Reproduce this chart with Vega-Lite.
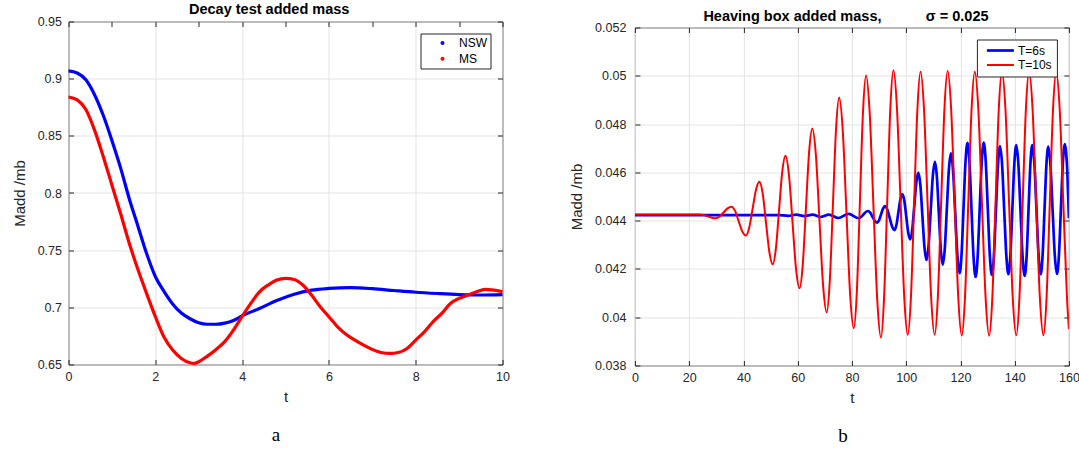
{
  "$schema": "https://vega.github.io/schema/vega-lite/v6.json",
  "background": "white",
  "padding": {"left": 11.5, "top": 0.5, "right": 3, "bottom": 3},
  "datasets": {
    "decay": [
      {"t":0,"v":0.9068,"s":"NSW"},{"t":0.2,"v":0.905,"s":"NSW"},{"t":0.4,"v":0.899,"s":"NSW"},{"t":0.6,"v":0.886,"s":"NSW"},{"t":0.8,"v":0.868,"s":"NSW"},{"t":1.0,"v":0.846,"s":"NSW"},{"t":1.2,"v":0.822,"s":"NSW"},{"t":1.4,"v":0.795,"s":"NSW"},{"t":1.6,"v":0.771,"s":"NSW"},{"t":1.8,"v":0.747,"s":"NSW"},{"t":2.0,"v":0.727,"s":"NSW"},{"t":2.2,"v":0.714,"s":"NSW"},{"t":2.4,"v":0.703,"s":"NSW"},{"t":2.6,"v":0.695,"s":"NSW"},{"t":2.8,"v":0.69,"s":"NSW"},{"t":3.0,"v":0.6865,"s":"NSW"},{"t":3.2,"v":0.6852,"s":"NSW"},{"t":3.4,"v":0.6852,"s":"NSW"},{"t":3.6,"v":0.6862,"s":"NSW"},{"t":3.8,"v":0.6885,"s":"NSW"},{"t":4.0,"v":0.6925,"s":"NSW"},{"t":4.4,"v":0.699,"s":"NSW"},{"t":4.8,"v":0.706,"s":"NSW"},{"t":5.2,"v":0.7115,"s":"NSW"},{"t":5.6,"v":0.715,"s":"NSW"},{"t":6.0,"v":0.7165,"s":"NSW"},{"t":6.5,"v":0.7172,"s":"NSW"},{"t":7.0,"v":0.7163,"s":"NSW"},{"t":7.5,"v":0.7147,"s":"NSW"},{"t":8.0,"v":0.7132,"s":"NSW"},{"t":8.5,"v":0.7121,"s":"NSW"},{"t":9.0,"v":0.7112,"s":"NSW"},{"t":9.5,"v":0.7108,"s":"NSW"},{"t":10,"v":0.7112,"s":"NSW"},
      {"t":0,"v":0.884,"s":"MS"},{"t":0.2,"v":0.8814,"s":"MS"},{"t":0.4,"v":0.873,"s":"MS"},{"t":0.6,"v":0.855,"s":"MS"},{"t":0.8,"v":0.832,"s":"MS"},{"t":1.0,"v":0.807,"s":"MS"},{"t":1.2,"v":0.782,"s":"MS"},{"t":1.4,"v":0.756,"s":"MS"},{"t":1.6,"v":0.733,"s":"MS"},{"t":1.8,"v":0.712,"s":"MS"},{"t":2.0,"v":0.692,"s":"MS"},{"t":2.2,"v":0.674,"s":"MS"},{"t":2.4,"v":0.6626,"s":"MS"},{"t":2.6,"v":0.6553,"s":"MS"},{"t":2.8,"v":0.6515,"s":"MS"},{"t":2.9,"v":0.651,"s":"MS"},{"t":3.0,"v":0.6524,"s":"MS"},{"t":3.2,"v":0.6573,"s":"MS"},{"t":3.4,"v":0.6632,"s":"MS"},{"t":3.6,"v":0.67,"s":"MS"},{"t":3.8,"v":0.68,"s":"MS"},{"t":4.0,"v":0.692,"s":"MS"},{"t":4.2,"v":0.7034,"s":"MS"},{"t":4.4,"v":0.7136,"s":"MS"},{"t":4.6,"v":0.7195,"s":"MS"},{"t":4.8,"v":0.7239,"s":"MS"},{"t":5.0,"v":0.7253,"s":"MS"},{"t":5.2,"v":0.7244,"s":"MS"},{"t":5.4,"v":0.7195,"s":"MS"},{"t":5.6,"v":0.7107,"s":"MS"},{"t":5.8,"v":0.7005,"s":"MS"},{"t":6.0,"v":0.6918,"s":"MS"},{"t":6.2,"v":0.683,"s":"MS"},{"t":6.4,"v":0.6763,"s":"MS"},{"t":6.6,"v":0.6713,"s":"MS"},{"t":6.8,"v":0.6669,"s":"MS"},{"t":7.0,"v":0.6632,"s":"MS"},{"t":7.2,"v":0.6605,"s":"MS"},{"t":7.4,"v":0.6597,"s":"MS"},{"t":7.6,"v":0.6605,"s":"MS"},{"t":7.8,"v":0.664,"s":"MS"},{"t":8.0,"v":0.6713,"s":"MS"},{"t":8.2,"v":0.6786,"s":"MS"},{"t":8.4,"v":0.6874,"s":"MS"},{"t":8.6,"v":0.6947,"s":"MS"},{"t":8.8,"v":0.7034,"s":"MS"},{"t":9.0,"v":0.7078,"s":"MS"},{"t":9.2,"v":0.7107,"s":"MS"},{"t":9.4,"v":0.7136,"s":"MS"},{"t":9.6,"v":0.7157,"s":"MS"},{"t":9.8,"v":0.715,"s":"MS"},{"t":10,"v":0.7136,"s":"MS"}
    ],
    "heave": [
      {"t":0,"v":0.04423,"s":"T=6s"},{"t":53,"v":0.04423,"s":"T=6s"},{"t":56.5,"v":0.0442,"s":"T=6s"},{"t":59.5,"v":0.04425,"s":"T=6s"},{"t":62.5,"v":0.04419,"s":"T=6s"},{"t":65.5,"v":0.04425,"s":"T=6s"},{"t":68.5,"v":0.04415,"s":"T=6s"},{"t":71.5,"v":0.04425,"s":"T=6s"},{"t":75,"v":0.04411,"s":"T=6s"},{"t":78.8,"v":0.04428,"s":"T=6s"},{"t":82.5,"v":0.0441,"s":"T=6s"},{"t":85.9,"v":0.0444,"s":"T=6s"},
      {"t":86.75,"v":0.04433,"s":"T=6s"},{"t":87.6,"v":0.04416,"s":"T=6s"},{"t":88.45,"v":0.04399,"s":"T=6s"},{"t":89.3,"v":0.04392,"s":"T=6s"},
      {"t":90.03,"v":0.04402,"s":"T=6s"},{"t":90.75,"v":0.04426,"s":"T=6s"},{"t":91.48,"v":0.0445,"s":"T=6s"},{"t":92.2,"v":0.0446,"s":"T=6s"},
      {"t":93.08,"v":0.044455,"s":"T=6s"},{"t":93.95,"v":0.044105,"s":"T=6s"},{"t":94.83,"v":0.043755,"s":"T=6s"},{"t":95.7,"v":0.04361,"s":"T=6s"},
      {"t":96.43,"v":0.043828,"s":"T=6s"},{"t":97.15,"v":0.044355,"s":"T=6s"},{"t":97.88,"v":0.044882,"s":"T=6s"},{"t":98.6,"v":0.0451,"s":"T=6s"},
      {"t":99.33,"v":0.044825,"s":"T=6s"},{"t":100.05,"v":0.04416,"s":"T=6s"},{"t":100.78,"v":0.043495,"s":"T=6s"},{"t":101.5,"v":0.04322,"s":"T=6s"},
      {"t":102.25,"v":0.043626,"s":"T=6s"},{"t":103,"v":0.044605,"s":"T=6s"},{"t":103.75,"v":0.045584,"s":"T=6s"},{"t":104.5,"v":0.04599,"s":"T=6s"},
      {"t":105.25,"v":0.04546,"s":"T=6s"},{"t":106,"v":0.04418,"s":"T=6s"},{"t":106.75,"v":0.0429,"s":"T=6s"},{"t":107.5,"v":0.04237,"s":"T=6s"},
      {"t":108.28,"v":0.042966,"s":"T=6s"},{"t":109.05,"v":0.044405,"s":"T=6s"},{"t":109.83,"v":0.045844,"s":"T=6s"},{"t":110.6,"v":0.04644,"s":"T=6s"},
      {"t":111.33,"v":0.045815,"s":"T=6s"},{"t":112.05,"v":0.044305,"s":"T=6s"},{"t":112.78,"v":0.042795,"s":"T=6s"},{"t":113.5,"v":0.04217,"s":"T=6s"},
      {"t":114.25,"v":0.042847,"s":"T=6s"},{"t":115,"v":0.04448,"s":"T=6s"},{"t":115.75,"v":0.046113,"s":"T=6s"},{"t":116.5,"v":0.04679,"s":"T=6s"},
      {"t":117.3,"v":0.046062,"s":"T=6s"},{"t":118.1,"v":0.044305,"s":"T=6s"},{"t":118.9,"v":0.042548,"s":"T=6s"},{"t":119.7,"v":0.04182,"s":"T=6s"},
      {"t":120.43,"v":0.042611,"s":"T=6s"},{"t":121.15,"v":0.04452,"s":"T=6s"},{"t":121.88,"v":0.046429,"s":"T=6s"},{"t":122.6,"v":0.04722,"s":"T=6s"},
      {"t":123.35,"v":0.046407,"s":"T=6s"},{"t":124.1,"v":0.044445,"s":"T=6s"},{"t":124.85,"v":0.042483,"s":"T=6s"},{"t":125.6,"v":0.04167,"s":"T=6s"},
      {"t":126.35,"v":0.042484,"s":"T=6s"},{"t":127.1,"v":0.04445,"s":"T=6s"},{"t":127.85,"v":0.046416,"s":"T=6s"},{"t":128.6,"v":0.04723,"s":"T=6s"},
      {"t":129.35,"v":0.046427,"s":"T=6s"},{"t":130.1,"v":0.04449,"s":"T=6s"},{"t":130.85,"v":0.042553,"s":"T=6s"},{"t":131.6,"v":0.04175,"s":"T=6s"},
      {"t":132.35,"v":0.042532,"s":"T=6s"},{"t":133.1,"v":0.04442,"s":"T=6s"},{"t":133.85,"v":0.046308,"s":"T=6s"},{"t":134.6,"v":0.04709,"s":"T=6s"},
      {"t":135.38,"v":0.046312,"s":"T=6s"},{"t":136.15,"v":0.044435,"s":"T=6s"},{"t":136.93,"v":0.042558,"s":"T=6s"},{"t":137.7,"v":0.04178,"s":"T=6s"},
      {"t":138.43,"v":0.042563,"s":"T=6s"},{"t":139.15,"v":0.044455,"s":"T=6s"},{"t":139.88,"v":0.046347,"s":"T=6s"},{"t":140.6,"v":0.04713,"s":"T=6s"},
      {"t":141.38,"v":0.046336,"s":"T=6s"},{"t":142.15,"v":0.04442,"s":"T=6s"},{"t":142.93,"v":0.042504,"s":"T=6s"},{"t":143.7,"v":0.04171,"s":"T=6s"},
      {"t":144.4,"v":0.042504,"s":"T=6s"},{"t":145.1,"v":0.04442,"s":"T=6s"},{"t":145.8,"v":0.046336,"s":"T=6s"},{"t":146.5,"v":0.04713,"s":"T=6s"},
      {"t":147.28,"v":0.046347,"s":"T=6s"},{"t":148.05,"v":0.044455,"s":"T=6s"},{"t":148.83,"v":0.042563,"s":"T=6s"},{"t":149.6,"v":0.04178,"s":"T=6s"},
      {"t":150.3,"v":0.042555,"s":"T=6s"},{"t":151,"v":0.044425,"s":"T=6s"},{"t":151.7,"v":0.046295,"s":"T=6s"},{"t":152.4,"v":0.04707,"s":"T=6s"},
      {"t":153.2,"v":0.046297,"s":"T=6s"},{"t":154,"v":0.04443,"s":"T=6s"},{"t":154.8,"v":0.042563,"s":"T=6s"},{"t":155.6,"v":0.04179,"s":"T=6s"},
      {"t":156.33,"v":0.042578,"s":"T=6s"},{"t":157.05,"v":0.04448,"s":"T=6s"},{"t":157.78,"v":0.046382,"s":"T=6s"},{"t":158.5,"v":0.04717,"s":"T=6s"},
      {"t":158.9,"v":0.0469,"s":"T=6s"},{"t":159.4,"v":0.04606,"s":"T=6s"},{"t":160,"v":0.0441,"s":"T=6s"},
      {"t":0,"v":0.04425,"s":"T=10s"},{"t":24,"v":0.04425,"s":"T=10s"},{"t":25.45,"v":0.044228,"s":"T=10s"},{"t":26.9,"v":0.044175,"s":"T=10s"},{"t":28.35,"v":0.044122,"s":"T=10s"},{"t":29.8,"v":0.0441,"s":"T=10s"},
      {"t":31.25,"v":0.04417,"s":"T=10s"},{"t":32.7,"v":0.04434,"s":"T=10s"},{"t":34.15,"v":0.04451,"s":"T=10s"},{"t":35.6,"v":0.04458,"s":"T=10s"},
      {"t":36.93,"v":0.044404,"s":"T=10s"},{"t":38.25,"v":0.04398,"s":"T=10s"},{"t":39.58,"v":0.043556,"s":"T=10s"},{"t":40.9,"v":0.04338,"s":"T=10s"},
      {"t":42.15,"v":0.043707,"s":"T=10s"},{"t":43.4,"v":0.044495,"s":"T=10s"},{"t":44.65,"v":0.045283,"s":"T=10s"},{"t":45.9,"v":0.04561,"s":"T=10s"},
      {"t":47.13,"v":0.045109,"s":"T=10s"},{"t":48.35,"v":0.0439,"s":"T=10s"},{"t":49.58,"v":0.042691,"s":"T=10s"},{"t":50.8,"v":0.04219,"s":"T=10s"},
      {"t":51.98,"v":0.042849,"s":"T=10s"},{"t":53.15,"v":0.04444,"s":"T=10s"},{"t":54.33,"v":0.046031,"s":"T=10s"},{"t":55.5,"v":0.04669,"s":"T=10s"},
      {"t":56.8,"v":0.045886,"s":"T=10s"},{"t":58.1,"v":0.043945,"s":"T=10s"},{"t":59.4,"v":0.042004,"s":"T=10s"},{"t":60.7,"v":0.0412,"s":"T=10s"},
      {"t":61.88,"v":0.042169,"s":"T=10s"},{"t":63.05,"v":0.04451,"s":"T=10s"},{"t":64.23,"v":0.046851,"s":"T=10s"},{"t":65.4,"v":0.04782,"s":"T=10s"},
      {"t":66.73,"v":0.046704,"s":"T=10s"},{"t":68.05,"v":0.04401,"s":"T=10s"},{"t":69.38,"v":0.041316,"s":"T=10s"},{"t":70.7,"v":0.0402,"s":"T=10s"},
      {"t":71.85,"v":0.041503,"s":"T=10s"},{"t":73.0,"v":0.04465,"s":"T=10s"},{"t":74.15,"v":0.047797,"s":"T=10s"},{"t":75.3,"v":0.0491,"s":"T=10s"},
      {"t":76.65,"v":0.0477,"s":"T=10s"},{"t":78.0,"v":0.04432,"s":"T=10s"},{"t":79.35,"v":0.04094,"s":"T=10s"},{"t":80.7,"v":0.03954,"s":"T=10s"},
      {"t":81.83,"v":0.041073,"s":"T=10s"},{"t":82.95,"v":0.044775,"s":"T=10s"},{"t":84.08,"v":0.048477,"s":"T=10s"},{"t":85.2,"v":0.05001,"s":"T=10s"},
      {"t":86.58,"v":0.048421,"s":"T=10s"},{"t":87.95,"v":0.044585,"s":"T=10s"},{"t":89.33,"v":0.040749,"s":"T=10s"},{"t":90.7,"v":0.03916,"s":"T=10s"},
      {"t":91.85,"v":0.040781,"s":"T=10s"},{"t":93.0,"v":0.044695,"s":"T=10s"},{"t":94.15,"v":0.048609,"s":"T=10s"},{"t":95.3,"v":0.05023,"s":"T=10s"},
      {"t":96.63,"v":0.048625,"s":"T=10s"},{"t":97.95,"v":0.04475,"s":"T=10s"},{"t":99.28,"v":0.040875,"s":"T=10s"},{"t":100.6,"v":0.03927,"s":"T=10s"},
      {"t":101.78,"v":0.040866,"s":"T=10s"},{"t":102.95,"v":0.04472,"s":"T=10s"},{"t":104.13,"v":0.048574,"s":"T=10s"},{"t":105.3,"v":0.05017,"s":"T=10s"},
      {"t":106.6,"v":0.048574,"s":"T=10s"},{"t":107.9,"v":0.04472,"s":"T=10s"},{"t":109.2,"v":0.040866,"s":"T=10s"},{"t":110.5,"v":0.03927,"s":"T=10s"},
      {"t":111.7,"v":0.040871,"s":"T=10s"},{"t":112.9,"v":0.044735,"s":"T=10s"},{"t":114.1,"v":0.048599,"s":"T=10s"},{"t":115.3,"v":0.0502,"s":"T=10s"},
      {"t":116.6,"v":0.048595,"s":"T=10s"},{"t":117.9,"v":0.04472,"s":"T=10s"},{"t":119.2,"v":0.040845,"s":"T=10s"},{"t":120.5,"v":0.03924,"s":"T=10s"},
      {"t":121.7,"v":0.040841,"s":"T=10s"},{"t":122.9,"v":0.044705,"s":"T=10s"},{"t":124.1,"v":0.048569,"s":"T=10s"},{"t":125.3,"v":0.05017,"s":"T=10s"},
      {"t":126.63,"v":0.048568,"s":"T=10s"},{"t":127.95,"v":0.0447,"s":"T=10s"},{"t":129.28,"v":0.040832,"s":"T=10s"},{"t":130.6,"v":0.03923,"s":"T=10s"},
      {"t":131.78,"v":0.040832,"s":"T=10s"},{"t":132.95,"v":0.0447,"s":"T=10s"},{"t":134.13,"v":0.048568,"s":"T=10s"},{"t":135.3,"v":0.05017,"s":"T=10s"},
      {"t":136.63,"v":0.048571,"s":"T=10s"},{"t":137.95,"v":0.04471,"s":"T=10s"},{"t":139.28,"v":0.040849,"s":"T=10s"},{"t":140.6,"v":0.03925,"s":"T=10s"},
      {"t":141.78,"v":0.040849,"s":"T=10s"},{"t":142.95,"v":0.04471,"s":"T=10s"},{"t":144.13,"v":0.048571,"s":"T=10s"},{"t":145.3,"v":0.05017,"s":"T=10s"},
      {"t":146.63,"v":0.048571,"s":"T=10s"},{"t":147.95,"v":0.04471,"s":"T=10s"},{"t":149.28,"v":0.040849,"s":"T=10s"},{"t":150.6,"v":0.03925,"s":"T=10s"},
      {"t":151.78,"v":0.040849,"s":"T=10s"},{"t":152.95,"v":0.04471,"s":"T=10s"},{"t":154.13,"v":0.048571,"s":"T=10s"},{"t":155.3,"v":0.05017,"s":"T=10s"},
      {"t":156.63,"v":0.048571,"s":"T=10s"},{"t":157.95,"v":0.04471,"s":"T=10s"},{"t":159.28,"v":0.040849,"s":"T=10s"},{"t":160,"v":0.0395,"s":"T=10s"}
    ]
  },
  "spacing": 58.4,
  "resolve": {"scale": {"color": "independent", "strokeWidth": "independent"}, "legend": {"color": "independent"}},
  "hconcat": [
    {
      "width": 434,
      "height": 343,
      "data": {"name": "decay"},
      "title": {"text": "a", "orient": "bottom", "font": "Liberation Serif", "fontSize": 19, "fontWeight": "normal", "color": "#000000", "dx": -9.5, "offset": 21},
      "layer": [
        {
          "mark": {"type": "line", "strokeWidth": 3.2, "interpolate": "monotone"},
          "encoding": {
            "x": {"field": "t", "type": "quantitative", "scale": {"domain": [0, 10], "nice": false, "zero": false},
                  "axis": {"orient": "bottom", "title": "t", "values": [0, 2, 4, 6, 8, 10], "titlePadding": 6.7, "labelPadding": 11}},
            "y": {"field": "v", "type": "quantitative", "scale": {"domain": [0.65, 0.95], "nice": false, "zero": false},
                  "axis": {"orient": "left", "title": "Madd /mb", "values": [0.65, 0.7, 0.75, 0.8, 0.85, 0.9, 0.95], "format": "~g", "titlePadding": 10, "labelPadding": 12}},
            "color": {"field": "s", "type": "nominal", "sort": ["NSW", "MS"],
                      "scale": {"domain": ["NSW", "MS"], "range": ["#0000ff", "#ff0000"]},
                      "legend": {"title": null, "orient": "top-right", "offset": 12, "symbolType": "circle", "symbolSize": 5, "symbolStrokeWidth": 1.8, "symbolOffset": 12.5, "labelOffset": 10.5, "padding": 3.5, "rowPadding": 3.7, "strokeColor": "#262626", "fillColor": "#ffffff", "labelFontSize": 12, "labelColor": "#000000"}}
          }
        },
        {
          "mark": {"type": "line", "strokeOpacity": 0},
          "encoding": {
            "x": {"field": "t", "type": "quantitative", "scale": {"domain": [0, 10], "nice": false, "zero": false},
                  "axis": {"orient": "top", "title": "Decay test added mass", "labels": false, "grid": false, "titleFontWeight": "bold", "titleFontSize": 14.5, "titleColor": "#000000", "titleAnchor": "start", "titleAlign": "left", "titleBaseline": "alphabetic", "titleX": 120, "titleY": -8.4}},
            "y": {"field": "v", "type": "quantitative", "scale": {"domain": [0.65, 0.95], "nice": false, "zero": false},
                  "axis": {"orient": "right", "title": null, "labels": false, "grid": false}}
          }
        }
      ],
      "resolve": {"axis": {"x": "independent", "y": "independent"}}
    },
    {
      "spacing": -18,
      "resolve": {"scale": {"color": "independent", "strokeWidth": "independent"}, "legend": {"color": "independent"}},
      "vconcat": [
        {
          "width": 434,
          "height": 1,
          "data": {"values": [{"t": 0}]},
          "mark": {"type": "point", "opacity": 0},
          "view": {"stroke": null}
        },
        {
          "width": 434,
          "height": 338,
          "data": {"name": "heave"},
          "title": {"text": "b", "orient": "bottom", "font": "Liberation Serif", "fontSize": 19, "fontWeight": "normal", "color": "#000000", "dx": -9, "offset": 21},
          "layer": [
            {
              "mark": {"type": "line", "interpolate": "monotone", "clip": true},
              "encoding": {
                "x": {"field": "t", "type": "quantitative", "scale": {"domain": [0, 160], "nice": false, "zero": false},
                      "axis": {"orient": "bottom", "title": "t", "values": [0, 20, 40, 60, 80, 100, 120, 140, 160], "titlePadding": 6.7, "labelPadding": 11}},
                "y": {"field": "v", "type": "quantitative", "scale": {"domain": [0.038, 0.052], "nice": false, "zero": false},
                      "axis": {"orient": "left", "title": "Madd /mb", "values": [0.038, 0.04, 0.042, 0.044, 0.046, 0.048, 0.05, 0.052], "format": "~g", "titlePadding": 10, "labelPadding": 14}},
                "color": {"field": "s", "type": "nominal", "sort": ["T=6s", "T=10s"],
                          "scale": {"domain": ["T=6s", "T=10s"], "range": ["#0000ff", "#ff0000"]},
                          "legend": {"title": null, "orient": "top-right", "offset": 12, "symbolType": "M-4.5,0L4.5,0", "symbolSize": 36, "symbolStrokeWidth": 2.2, "symbolOffset": 12.5, "labelOffset": 11.5, "padding": 5, "rowPadding": 2.5, "strokeColor": "#262626", "fillColor": "#ffffff", "labelFontSize": 12, "labelColor": "#000000"}},
                "strokeWidth": {"field": "s", "type": "nominal", "scale": {"domain": ["T=6s", "T=10s"], "range": [2.7, 2]}, "legend": null}
              }
            },
            {
              "mark": {"type": "line", "strokeOpacity": 0},
              "encoding": {
                "x": {"field": "t", "type": "quantitative", "scale": {"domain": [0, 160], "nice": false, "zero": false},
                      "axis": {"orient": "top", "title": "Heaving box added mass,\u00a0\u00a0\u00a0\u00a0\u00a0\u00a0\u00a0\u00a0\u00a0\u00a0\u00a0σ = 0.025", "labels": false, "grid": false, "titleFontWeight": "bold", "titleFontSize": 14.5, "titleColor": "#000000", "titleAnchor": "start", "titleAlign": "left", "titleBaseline": "alphabetic", "titleX": 68, "titleY": -6.6}},
                "y": {"field": "v", "type": "quantitative", "scale": {"domain": [0.038, 0.052], "nice": false, "zero": false},
                      "axis": {"orient": "right", "title": null, "labels": false, "grid": false}}
              }
            }
          ],
          "resolve": {"axis": {"x": "independent", "y": "independent"}}
        }
      ]
    }
  ],
  "config": {
    "font": "Liberation Sans",
    "view": {"stroke": "#262626", "strokeWidth": 1},
    "axis": {
      "domain": false,
      "grid": true,
      "gridColor": "#e3e3e3",
      "gridWidth": 1,
      "ticks": true,
      "tickColor": "#262626",
      "tickSize": -5,
      "labelFlush": false,
      "labelColor": "#262626",
      "labelFont": "Liberation Sans",
      "labelFontSize": 12.5,
      "labelPadding": 13,
      "titleColor": "#262626",
      "titleFont": "Liberation Sans",
      "titleFontSize": 15,
      "titleFontWeight": "normal"
    },
    "legend": {"labelFont": "Liberation Sans"}
  }
}
